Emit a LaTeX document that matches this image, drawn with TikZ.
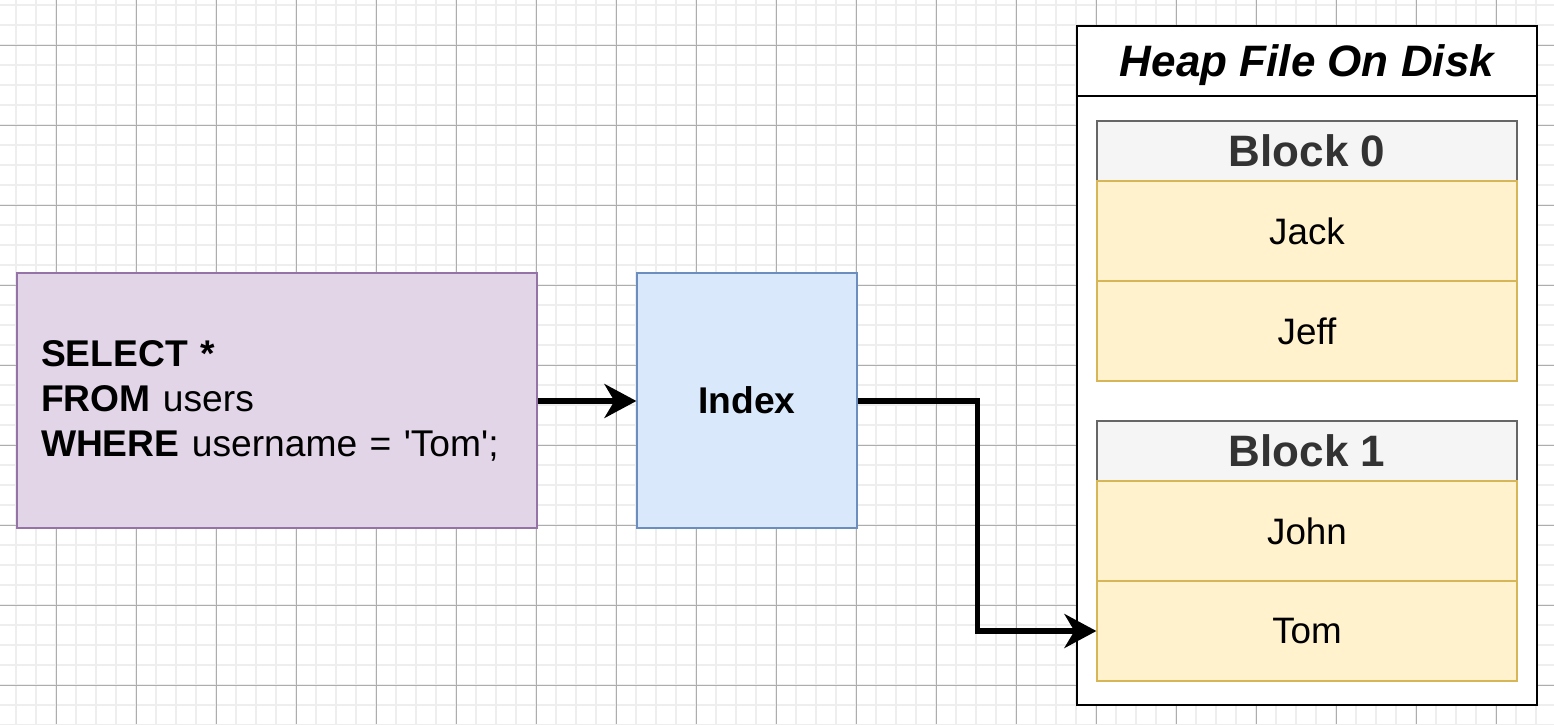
\documentclass[tikz,border=0pt]{standalone}
\usepackage{fontspec}
\setmainfont{Liberation Sans}
\usetikzlibrary{arrows.meta}

\definecolor{sql_fill}{HTML}{E1D5E7}
\definecolor{sql_line}{HTML}{9673A6}
\definecolor{idx_fill}{HTML}{DAE8FC}
\definecolor{idx_line}{HTML}{6C8EBF}
\definecolor{blk_fill}{HTML}{F5F5F5}
\definecolor{blk_line}{HTML}{666666}
\definecolor{blk_text}{HTML}{333333}
\definecolor{row_fill}{HTML}{FFF2CC}
\definecolor{row_line}{HTML}{D6B656}
\definecolor{grid_minor}{HTML}{EEEEEE}
\definecolor{grid_major}{HTML}{ADADAD}

\begin{document}
\begin{tikzpicture}[
    x=0.5pt, y=-0.5pt,
    sqlbox/.style={rectangle, draw=sql_line, fill=sql_fill, line width=0.6pt,
                minimum width=260pt, minimum height=127.5pt, inner sep=12pt,
                text width=236pt, align=left,
                font=\fontsize{18.6}{22.5}\selectfont},
    idxbox/.style={rectangle, draw=idx_line, fill=idx_fill, line width=0.6pt,
                minimum width=110pt, minimum height=127.5pt,
                font=\fontsize{18.6}{22.5}\selectfont\bfseries},
    heapbox/.style={rectangle, draw=black, fill=white, line width=1pt,
                minimum width=230pt, minimum height=339.5pt},
    heaptitle/.style={rectangle, draw=black, line width=1pt,
                minimum width=230pt, minimum height=35pt, text depth=0pt,
                font=\fontsize{22}{26}\selectfont\bfseries\itshape},
    blockhead/.style={rectangle, draw=blk_line, fill=blk_fill, line width=0.7pt,
                minimum width=210pt, minimum height=30pt, text=blk_text,
                font=\fontsize{22}{26}\selectfont\bfseries},
    record/.style={rectangle, draw=row_line, fill=row_fill, line width=0.6pt,
                minimum width=210pt, minimum height=50pt,
                font=\fontsize{18.4}{22.5}\selectfont},
    conn/.style={->, >={Stealth[length=16pt, width=17pt, inset=5pt]},
                line width=2.6pt, black}
]
    \useasboundingbox (0,0) rectangle (1554,724);

    % Background grid
    \foreach \gx in {16,36,...,1556}
        \draw[grid_minor, line width=1pt] (\gx,0) -- (\gx,724);
    \foreach \gy in {5,25,...,725}
        \draw[grid_minor, line width=1pt] (0,\gy) -- (1554,\gy);
    \foreach \gx in {56,136,...,1536}
        \draw[grid_major, line width=0.5pt] (\gx,0) -- (\gx,724);
    \foreach \gy in {45,125,...,685}
        \draw[grid_major, line width=0.5pt] (0,\gy) -- (1554,\gy);

    % Query and index
    \node[sqlbox] (query) at (277, 400.5)
        {\textbf{SELECT *}\\\textbf{FROM} users\\\textbf{WHERE} username =
         \textquotesingle Tom\textquotesingle;};
    \node[idxbox] (index) at (747, 400.5) {Index};

    % Heap file with its blocks
    \node[heapbox] (heap) at (1307, 365.5) {};
    \node[heaptitle] (title) at (1307, 61) {Heap File On Disk};

    \node[blockhead] (b0) at (1307, 151) {Block 0};
    \node[record] (jack) at (1307, 231) {Jack};
    \node[record] (jeff) at (1307, 331) {Jeff};

    \node[blockhead] (b1) at (1307, 451) {Block 1};
    \node[record] (john) at (1307, 531) {John};
    \node[record] (tom)  at (1307, 631) {Tom};

    % Lookup arrows
    \draw[conn] (query.east |- 0,401) -- (index.west |- 0,401);
    \draw[conn] (index.east |- 0,401) -- ++(120,0) |- (tom.west);

\end{tikzpicture}
\end{document}
